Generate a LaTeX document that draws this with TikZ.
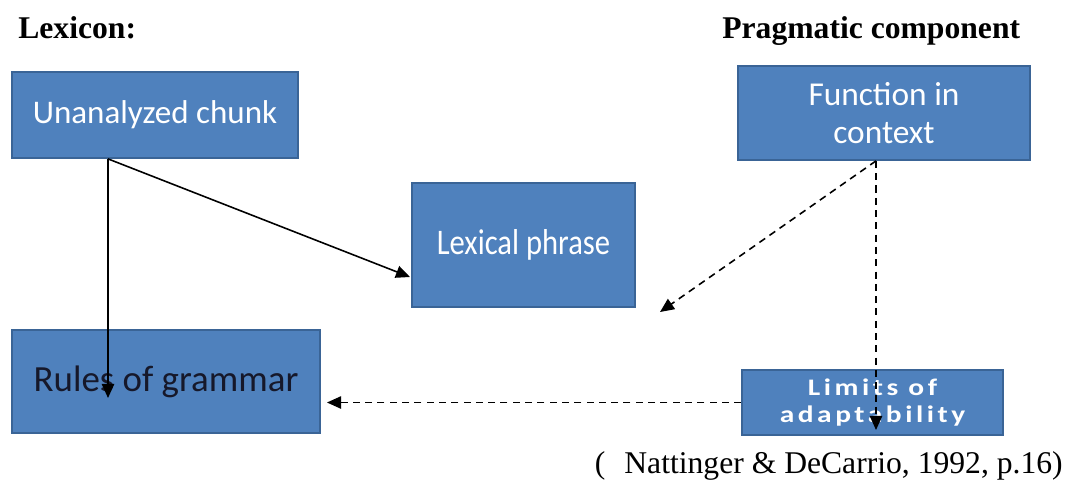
\documentclass[tikz,border=0pt]{standalone}
\usepackage{fontspec}
\usepackage{graphicx}
\setmainfont{Liberation Serif}
\newfontfamily\boxfont{Carlito}
\usetikzlibrary{arrows.meta}
\definecolor{boxblue}{HTML}{4F81BD}
\definecolor{boxedge}{HTML}{3A6496}
\definecolor{darktext}{HTML}{16182A}
\newcommand{\widetext}[1]{\scalebox{1.24}[1]{\addfontfeature{LetterSpace=12}#1}}
\tikzset{
  blockbox/.style={draw=boxedge, line width=1pt, fill=boxblue, text=white,
    align=center, inner sep=0pt},
  heading/.style={anchor=base west, inner sep=0pt, font=\bfseries\fontsize{18}{22}\selectfont},
  link/.style={line width=0.9pt, -{Triangle[length=8pt,width=7pt]}},
  hint/.style={link, dash pattern=on 4pt off 3pt}
}
\begin{document}
\begin{tikzpicture}[x=0.02cm, y=-0.02cm]
      \useasboundingbox (0,0) rectangle (1071,488);
      \node[heading] (lexicon) at (18,38) {Lexicon:};
      \node[heading] (pragmatic) at (722,38) {Pragmatic component};
      \node[blockbox, minimum width=5.72cm, minimum height=1.72cm,
        font=\boxfont\fontsize{18.8}{22}\selectfont] (chunk) at (155,115) {Unanalyzed chunk};
      \node[blockbox, minimum width=4.46cm, minimum height=2.48cm,
        font=\boxfont\fontsize{20.5}{24}\selectfont] (phrase) at (523.5,245) {\scalebox{0.85}[1]{Lexical phrase}};
      \node[blockbox, minimum width=5.84cm, minimum height=1.88cm,
        font=\boxfont\fontsize{19}{21.5}\selectfont] (func) at (884,113) {Function in\\context};
      \node[blockbox, minimum width=6.16cm, minimum height=2.06cm, text=darktext,
        font=\boxfont\fontsize{21}{24}\selectfont] (rules) at (166,381.5) {Rules of grammar};
      \node[blockbox, minimum width=5.22cm, minimum height=1.3cm,
        font=\boxfont\bfseries\fontsize{13.5}{15}\selectfont] (limits) at (872.5,402.5) {\widetext{Limits of}\\\widetext{adaptability}};
      \node[anchor=base east, inner sep=0pt, font=\fontsize{18}{22}\selectfont] (source) at (1063,473)
        {(\hspace{0.6em}Nattinger \& DeCarrio, 1992, p.16)};
      \coordinate (rulesin) at (108,398);
      \coordinate (phrasein) at (410,277);
      \coordinate (limitsin) at (876,430);
      \coordinate (gap) at (660,312);
      \coordinate (rulesout) at (327,402.5);
      \begin{scope}
        \draw[link] (chunk.south -| rulesin) -- (rulesin);
        \draw[link] (chunk.south -| rulesin) -- (phrasein);
        \draw[hint] (func.south -| limitsin) -- (gap);
        \draw[hint] (func.south -| limitsin) -- (limitsin);
        \draw[hint] (limits.west) -- (rulesout);
      \end{scope}
    \end{tikzpicture}
\end{document}
